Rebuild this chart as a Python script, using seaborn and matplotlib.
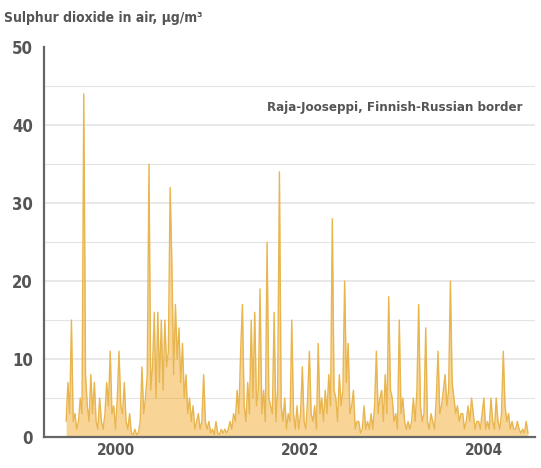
import numpy as np
import pandas as pd
import matplotlib
matplotlib.use("Agg")
import matplotlib.pyplot as plt
import matplotlib.dates as mdates
import seaborn as sns

# weekly SO2 readings (µg/m3)
start_date = "1999-12-16"
so2_values = [
    2, 7, 3, 15, 2, 3, 1, 2, 5, 3,
    44, 8, 4, 2, 8, 3, 7, 2, 1, 5,
    2, 1, 3, 7, 4, 11, 3, 4, 1, 5,
    11, 4, 3, 7, 2, 1, 3, 0.5, 0.3, 1,
    0.3, 0.5, 2, 9, 3, 5, 8, 35, 6, 9,
    16, 5, 16, 7, 15, 6, 15, 9, 11, 32,
    22, 8, 17, 10, 14, 7, 12, 5, 8, 3,
    5, 2, 4, 1, 2, 3, 1, 2, 8, 2,
    1, 2, 0.5, 1, 0.3, 2, 0.5, 0.3, 1, 0.5,
    1, 0.5, 1, 2, 1, 3, 2, 6, 3, 11,
    17, 4, 2, 7, 3, 15, 5, 16, 4, 6,
    19, 3, 6, 2, 25, 5, 4, 3, 16, 2,
    6, 34, 4, 2, 5, 1, 3, 2, 15, 3,
    1, 4, 1, 3, 9, 2, 1, 5, 11, 3,
    2, 4, 1, 12, 3, 5, 2, 6, 3, 8,
    4, 28, 6, 5, 2, 8, 4, 6, 20, 7,
    12, 3, 4, 6, 1, 2, 2, 0.5, 1, 4,
    1, 2, 1, 3, 1, 4, 11, 3, 5, 6,
    2, 8, 3, 18, 6, 5, 2, 3, 1, 15,
    3, 5, 2, 1, 2, 1, 2, 5, 2, 6,
    17, 4, 2, 3, 14, 2, 1, 3, 2, 1,
    5, 11, 3, 4, 6, 8, 4, 6, 20, 7,
    5, 3, 4, 2, 3, 3, 1, 2, 4, 2,
    5, 3, 1, 2, 2, 1, 3, 5, 1, 2,
    1, 5, 2, 1, 5, 2, 1, 3, 11, 4,
    2, 3, 1, 2, 1, 1, 2, 1, 0.5, 1,
    0.5, 2, 0.5,
]
y_ticks = [0, 10, 20, 30, 40, 50]
year_labels = ["2000", "2002", "2004"]

df = pd.DataFrame({
    "date": pd.date_range(start_date, periods=len(so2_values), freq="7D"),
    "so2": so2_values,
})

sns.set_style("white")
plt.rcParams["font.family"] = ["DejaVu Sans"]

fig = plt.figure(figsize=(5.41, 4.68), dpi=100)
ax = fig.add_axes([0.0813, 0.0662, 0.9076, 0.833])

ax.fill_between(df["date"], df["so2"], color="#f0a21a", alpha=0.45, lw=0)
sns.lineplot(data=df, x="date", y="so2", ax=ax, color="#e8b54e", linewidth=1.0)

ax.set_xlim(pd.Timestamp("1999-09-19"), pd.Timestamp("2005-01-20"))
ax.set_ylim(0, 50)

# grid every 5
for v in range(5, 50, 5):
    ax.axhline(v, color="#e4e4e4", lw=1.2 if v % 10 == 0 else 0.8, zorder=0)

ax.set_yticks(y_ticks)
ax.set_yticks(range(5, 50, 10), minor=True)
ax.tick_params(axis="y", which="both", direction="out", length=5, color="#888888",
               labelsize=12, labelcolor="#555555", pad=3)
for lab in ax.get_yticklabels():
    lab.set_fontweight("bold")
    lab.set_fontstretch("condensed")

ax.xaxis.set_major_locator(mdates.YearLocator())
ax.xaxis.set_major_formatter(plt.NullFormatter())
ax.set_xticks([pd.Timestamp(f"{y}-07-01") for y in year_labels], minor=True)
ax.set_xticklabels(year_labels, minor=True)
ax.tick_params(axis="x", which="major", direction="out", length=5, color="#888888")
ax.tick_params(axis="x", which="minor", length=0, labelsize=11, labelcolor="#555555", pad=4)
for lab in ax.get_xticklabels(minor=True):
    lab.set_fontweight("bold")
    lab.set_fontstretch("condensed")

ax.set_xlabel("")
ax.set_ylabel("")
for side in ["top", "right"]:
    ax.spines[side].set_visible(False)
ax.spines["left"].set_color("#666666")
ax.spines["left"].set_linewidth(1.6)
ax.spines["bottom"].set_color("#666666")
ax.spines["bottom"].set_linewidth(1.6)

fig.text(0.008, 0.962, "Sulphur dioxide in air, \u03bcg/m\u00b3", fontsize=10,
         fontweight="bold", fontstretch="condensed", color="#555555", ha="left", va="center")
ax.text(0.975, 0.845, "Raja-Jooseppi, Finnish-Russian border", transform=ax.transAxes,
        fontsize=9.5, fontweight="bold", fontstretch="condensed", color="#555555",
        ha="right", va="center")

fig.savefig("out.png", dpi=100)
